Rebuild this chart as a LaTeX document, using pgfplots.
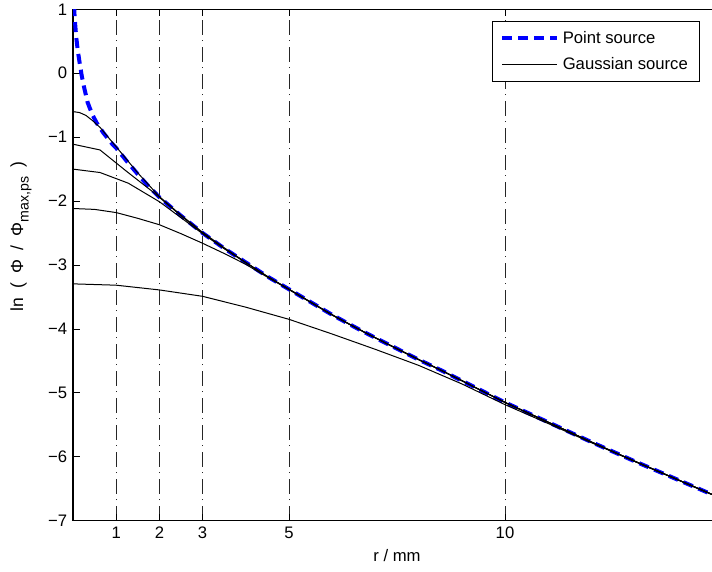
\documentclass[border=0pt]{standalone}
\usepackage{pgfplots}
\pgfplotsset{compat=1.18}
\usepackage{fontspec}
\setmainfont{Liberation Sans}
\begin{document}
\begin{tikzpicture}
\begin{axis}[
  scale only axis, width=388.8pt, height=306.8pt,
  xmin=0, xmax=15, ymin=-7, ymax=1,
  xtick={1,2,3,5,10}, xticklabels={1,2,3,5,10},
  ytick={-7,-6,-5,-4,-3,-2,-1,0,1},
  yticklabels={−7,−6,−5,−4,−3,−2,−1,0,1},
  tick align=inside, major tick length=3.9pt,
  tick style={black, line width=0.5pt},
  axis line style={line width=0.8pt},
  xmajorgrids,
  major grid style={black!85, line width=0.55pt, dash pattern=on 9pt off 3.3pt on 0.6pt off 3.3pt},
  tick label style={font=\fontsize{10}{12}\selectfont},
  xlabel style={font=\fontsize{10}{12}\selectfont},
  xlabel={r / mm},
  ylabel={ln\hspace{5.5pt}(\hspace{5.5pt}Φ\hspace{5.5pt}/\hspace{5.5pt}Φ\raisebox{-0.6ex}{\fontsize{8.5}{10}\selectfont max,ps}\hspace{5.5pt})},
  ylabel style={font=\fontsize{10.5}{12}\selectfont, xshift=17pt, yshift=3pt},
  legend style={at={(rel axis cs:1,1)}, anchor=north east, xshift=-12.6pt, yshift=-6.8pt,
    font=\fontsize{10}{12}\selectfont, draw=black, line width=0.6pt, row sep=3pt,
    inner xsep=5pt, inner ysep=4pt},
  legend cell align=left,
  legend image code/.code={\draw[#1] (0pt,0pt) -- (33pt,0pt);},
]
% Point source
\addplot[blue, line width=2.4pt, dash pattern=on 6pt off 3.6pt] coordinates {
(0.025,1.05) (0.04,0.85) (0.074,0.57) (0.11,0.36) (0.15,0.18) (0.2,-0.03) (0.25,-0.2)
(0.34,-0.46) (0.45,-0.65) (0.55,-0.78) (0.7,-0.93) (0.9,-1.10) (1.0,-1.17) (1.25,-1.38)
(1.5,-1.58) (1.75,-1.77) (2.0,-1.94) (2.5,-2.23) (3.0,-2.50) (3.5,-2.74) (4.0,-2.96)
(4.5,-3.18) (5.0,-3.38) (5.5,-3.58) (6.0,-3.78) (6.6,-4.0) (7.0,-4.14) (7.5,-4.31)
(8.0,-4.48) (8.5,-4.64) (9.0,-4.81) (9.5,-4.98) (10,-5.15) (11,-5.46) (12,-5.77)
(13,-6.07) (14,-6.36) (15,-6.65)};
\addlegendentry{Point source}
% Gaussian sources
\addplot[black, line width=0.6pt] coordinates {
(0,-0.60) (0.15,-0.615) (0.3,-0.66) (0.45,-0.74) (0.63,-0.85) (0.8,-0.99) (1.0,-1.15) (1.5,-1.56) (2.0,-1.93) (2.5,-2.22)
(3.0,-2.49) (3.5,-2.73) (4.0,-2.96) (4.5,-3.18) (5.0,-3.38) (5.5,-3.58) (6.0,-3.78)
(6.6,-4.0) (7.0,-4.14) (7.5,-4.31) (8.0,-4.48) (8.5,-4.64) (9.0,-4.81) (9.5,-4.98)
(10,-5.15) (11,-5.46) (12,-5.77) (13,-6.07) (14,-6.36) (15,-6.65)};
\addlegendentry{Gaussian source}
\addplot[black, line width=0.6pt, forget plot] coordinates {
(0,-1.11) (0.625,-1.20) (1.25,-1.54) (1.875,-1.87) (2.5,-2.23) (3.0,-2.50) (3.5,-2.74)
(4.0,-2.96) (4.5,-3.18) (5.0,-3.38) (5.5,-3.58) (6.0,-3.78) (6.6,-4.0) (7.0,-4.14)
(7.5,-4.31) (8.0,-4.48) (8.5,-4.64) (9.0,-4.81) (9.5,-4.98) (10,-5.15) (11,-5.46)
(12,-5.77) (13,-6.07) (14,-6.36) (15,-6.65)};
\addplot[black, line width=0.6pt, forget plot] coordinates {
(0,-1.50) (0.625,-1.553) (1.28,-1.72) (2.0,-2.01) (2.5,-2.26) (3.0,-2.51) (3.5,-2.745)
(4.0,-2.965) (4.5,-3.18) (5.0,-3.38) (5.5,-3.58) (6.0,-3.78) (6.6,-4.0) (7.0,-4.14)
(7.5,-4.31) (8.0,-4.48) (8.5,-4.64) (9.0,-4.81) (9.5,-4.98) (10,-5.15) (11,-5.46)
(12,-5.77) (13,-6.07) (14,-6.36) (15,-6.65)};
\addplot[black, line width=0.6pt, forget plot] coordinates {
(0,-2.116) (0.5,-2.13) (1.0,-2.18) (1.5,-2.27) (2.0,-2.37) (2.5,-2.51) (3.0,-2.66)
(3.5,-2.82) (4.0,-2.99) (4.5,-3.19) (5.0,-3.385) (5.5,-3.585) (6.0,-3.785) (6.6,-4.0)
(7.0,-4.14) (7.5,-4.31) (8.0,-4.48) (8.5,-4.64) (9.0,-4.81) (9.5,-4.98) (10,-5.15)
(11,-5.46) (12,-5.77) (13,-6.07) (14,-6.36) (15,-6.65)};
\addplot[black, line width=0.6pt, forget plot] coordinates {
(0,-3.295) (1.0,-3.316) (2.0,-3.39) (3.0,-3.49) (4.0,-3.66) (5.0,-3.85) (6.0,-4.08)
(7.0,-4.32) (8.0,-4.57) (9.0,-4.86) (10,-5.185) (11,-5.48) (12,-5.78) (13,-6.07)
(14,-6.36) (15,-6.65)};
\end{axis}
\pgfresetboundingbox
\path ([xshift=-43.8pt,yshift=-30.2pt]current axis.south west) rectangle ([xshift=383.4pt,yshift=312.4pt]current axis.south west);
\end{tikzpicture}
\end{document}
